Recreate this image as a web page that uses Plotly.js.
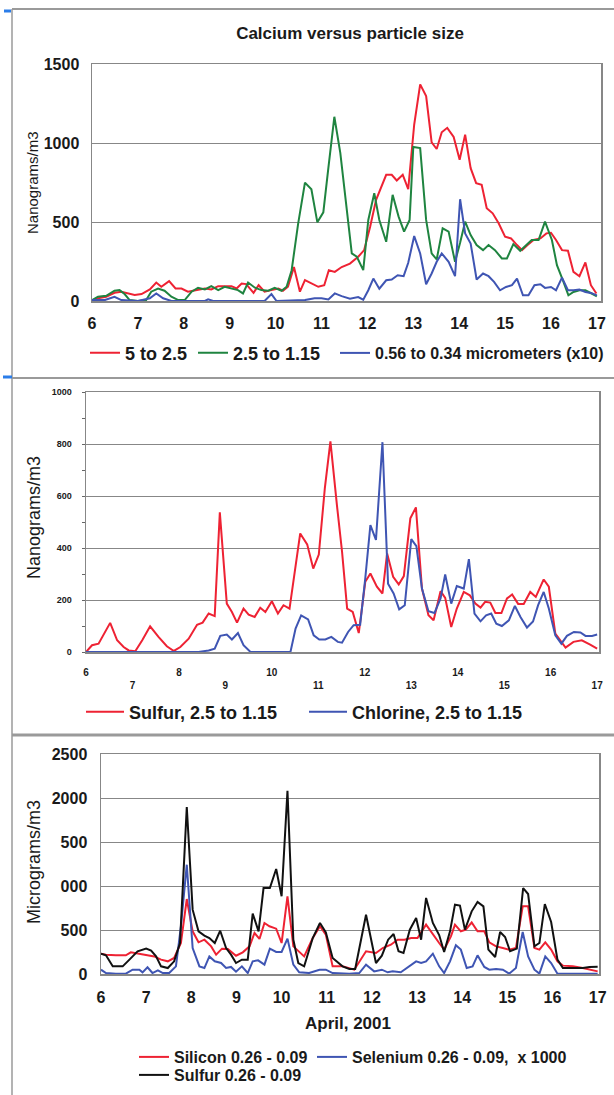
<!DOCTYPE html>
<html>
<head>
<meta charset="utf-8">
<script src="https://cdn.plot.ly/plotly-3.0.1.min.js"></script>
<style>
  html, body { margin: 0; padding: 0; background: #fff; }
  #chart { width: 614px; height: 1095px; }
</style>
</head>
<body>
<div id="chart"></div>
<script>
// ---- Calcium versus particle size (ng/m3), April 2001 ----
const caCoarseDay = [6.00,6.13,6.31,6.49,6.64,6.78,6.93,7.08,7.26,7.40,7.51,7.68,7.82,7.95,8.09,8.20,8.35,8.46,8.60,8.75,8.89,9.04,9.15,9.26,9.36,9.52,9.63,9.76,9.91,10.06,10.16,10.27,10.40,10.53,10.64,10.78,10.93,11.06,11.16,11.29,11.44,11.62,11.80,11.93,12.06,12.19,12.31,12.41,12.53,12.64,12.77,12.89,13.02,13.15,13.28,13.40,13.51,13.62,13.74,13.88,14.01,14.13,14.25,14.37,14.49,14.60,14.73,14.86,15.00,15.13,15.26,15.37,15.49,15.62,15.77,15.90,16.00,16.11,16.24,16.37,16.49,16.62,16.75,16.87,16.99];
const caCoarse = [0,17,27,52,59,48,38,44,73,117,90,126,79,79,59,65,73,79,73,94,94,94,79,111,107,52,100,59,69,79,65,90,215,59,132,111,90,100,195,184,215,237,280,322,470,640,725,799,799,763,799,708,1117,1371,1297,1004,962,1068,1096,1038,894,1053,841,746,735,587,555,492,407,396,354,322,354,386,396,428,432,386,322,318,184,157,244,100,47];

const caMidDay = [6.00,6.13,6.31,6.49,6.60,6.71,6.82,7.00,7.18,7.29,7.44,7.58,7.73,7.88,8.02,8.17,8.31,8.46,8.60,8.75,8.89,9.04,9.18,9.29,9.40,9.55,9.69,9.84,9.98,10.13,10.24,10.35,10.49,10.64,10.78,10.91,11.04,11.15,11.28,11.41,11.66,11.77,11.91,12.02,12.15,12.26,12.41,12.55,12.68,12.80,12.92,13.00,13.15,13.28,13.40,13.51,13.64,13.77,13.91,14.02,14.13,14.25,14.38,14.52,14.64,14.78,14.93,15.04,15.18,15.33,15.46,15.58,15.73,15.87,16.02,16.13,16.26,16.38,16.49,16.62,16.75,16.87,17.00];
const caMid = [6,27,33,65,69,44,6,0,6,59,79,65,27,6,6,59,84,73,94,69,90,79,69,48,117,84,69,65,84,65,90,195,487,749,707,498,561,843,1166,937,301,280,195,513,682,513,375,672,534,439,513,975,968,513,301,263,460,439,248,369,502,417,354,322,354,322,269,269,360,318,354,386,386,502,386,227,131,36,57,68,68,51,30];

const caFineDay = [6.00,6.28,6.49,6.64,7.00,7.26,7.40,7.55,7.73,8.46,8.53,8.64,9.76,9.91,10.02,10.64,10.85,11.00,11.15,11.29,11.44,11.62,11.80,11.91,12.02,12.13,12.26,12.41,12.53,12.66,12.79,12.89,13.02,13.15,13.28,13.40,13.51,13.62,13.77,13.91,14.02,14.13,14.25,14.38,14.52,14.64,14.76,14.89,15.02,15.15,15.26,15.39,15.51,15.64,15.77,15.87,16.00,16.11,16.24,16.37,16.49,16.62,16.75,16.87,17.00];
const caFine = [6,6,27,6,0,17,48,17,0,0,10,0,0,44,0,6,17,17,10,48,31,15,25,8,68,142,78,131,136,163,157,242,411,301,106,174,248,301,248,157,644,428,364,136,174,157,121,68,89,100,142,36,36,100,106,83,89,68,148,68,68,72,57,51,36];

// ---- Sulfur and chlorine, 2.5 to 1.15 um (ng/m3) ----
const sulfurDay = [6.00,6.13,6.27,6.52,6.67,6.81,6.92,7.06,7.21,7.38,7.56,7.74,7.89,8.03,8.21,8.39,8.51,8.64,8.77,8.88,9.03,9.14,9.25,9.39,9.50,9.63,9.75,9.86,10.00,10.13,10.25,10.38,10.61,10.76,10.89,11.01,11.14,11.26,11.40,11.51,11.62,11.74,11.87,12.01,12.12,12.26,12.38,12.48,12.61,12.73,12.84,12.98,13.10,13.23,13.37,13.48,13.63,13.73,13.86,13.98,14.13,14.26,14.38,14.49,14.59,14.70,14.81,14.94,15.06,15.17,15.30,15.42,15.56,15.68,15.85,15.96,16.10,16.32,16.49,16.67,16.85,17.00];
const sulfur = [0,26,32,112,45,19,6,3,45,99,58,22,4,19,51,105,113,148,138,537,186,154,113,167,144,135,170,154,195,148,180,167,456,414,321,375,630,810,565,386,167,154,73,270,302,251,225,379,289,260,292,514,556,244,141,122,234,208,96,167,231,218,186,171,193,190,150,150,206,221,185,185,231,212,279,251,71,17,39,45,28,13];

const chlorineDay = [6.00,8.42,8.64,8.77,8.89,9.03,9.14,9.27,9.39,9.54,10.40,10.51,10.63,10.78,10.90,11.02,11.15,11.28,11.42,11.51,11.64,11.76,11.90,12.01,12.12,12.24,12.38,12.50,12.62,12.74,12.86,13.00,13.11,13.23,13.37,13.50,13.63,13.73,13.86,13.98,14.13,14.24,14.36,14.49,14.61,14.72,14.83,14.95,15.10,15.23,15.35,15.49,15.62,15.73,15.85,15.96,16.10,16.23,16.35,16.50,16.64,16.75,16.89,17.00];
const chlorine = [0,0,6,13,62,67,48,73,26,0,0,90,141,125,64,48,48,58,39,36,77,103,105,283,488,431,807,263,225,164,180,434,407,244,157,150,206,298,186,254,244,357,148,118,141,148,109,100,122,177,135,94,117,180,231,167,64,32,62,77,75,62,62,67];

// ---- Ultrafine 0.26 - 0.09 um fraction ----
const siliconDay = [6.00,6.11,6.33,6.55,6.66,6.85,7.03,7.18,7.33,7.48,7.62,7.77,7.90,8.03,8.16,8.29,8.44,8.55,8.68,8.81,8.99,9.14,9.29,9.40,9.51,9.62,9.73,9.88,10.00,10.13,10.26,10.39,10.50,10.69,10.85,10.98,11.13,11.35,11.61,11.87,12.09,12.24,12.42,12.57,12.72,12.87,13.01,13.20,13.35,13.49,13.60,13.75,13.84,13.97,14.08,14.21,14.34,14.49,14.60,14.75,14.90,15.04,15.19,15.34,15.46,15.60,15.71,15.84,15.97,16.11,16.23,16.45,16.67,16.82,17.00];
const silicon = [231,220,212,212,246,231,220,200,163,144,182,352,852,485,360,390,314,220,288,284,208,246,314,466,398,580,542,515,352,883,314,258,200,409,542,447,87,87,49,258,239,295,333,390,390,409,409,561,447,352,277,428,561,485,504,587,485,485,360,314,295,277,295,769,769,295,277,360,277,144,95,87,68,49,30];

const seleniumDay = [6.00,6.11,6.33,6.55,6.70,6.85,6.92,7.03,7.14,7.26,7.37,7.51,7.66,7.77,7.90,8.03,8.18,8.29,8.40,8.52,8.66,8.77,8.88,8.99,9.12,9.25,9.36,9.48,9.62,9.74,9.88,10.00,10.13,10.26,10.39,10.61,10.84,10.98,11.13,11.50,11.72,11.87,12.05,12.22,12.35,12.46,12.64,12.83,12.98,13.09,13.20,13.35,13.49,13.60,13.73,13.86,13.97,14.10,14.23,14.34,14.49,14.60,14.75,14.90,15.04,15.19,15.34,15.46,15.60,15.71,15.84,15.97,16.11,17.00];
const selenium = [49,11,4,4,49,49,19,76,11,42,11,11,87,542,1242,295,87,68,200,144,125,68,80,27,87,11,144,155,106,288,250,250,402,106,19,11,49,49,11,4,11,106,30,49,19,30,19,87,144,125,144,231,87,11,144,326,277,68,87,212,80,49,57,49,4,68,477,200,49,4,200,125,4,4];

const sulfurFineDay = [6.00,6.11,6.26,6.48,6.63,6.81,7.00,7.11,7.22,7.33,7.48,7.62,7.75,7.90,8.03,8.16,8.29,8.40,8.52,8.64,8.77,8.88,8.99,9.12,9.25,9.36,9.49,9.60,9.74,9.88,10.00,10.13,10.26,10.37,10.50,10.69,10.85,10.98,11.13,11.35,11.50,11.63,11.87,12.09,12.22,12.36,12.48,12.59,12.70,12.84,12.98,13.09,13.20,13.35,13.49,13.60,13.73,13.84,13.95,14.06,14.21,14.34,14.47,14.58,14.73,14.84,14.95,15.06,15.21,15.35,15.46,15.60,15.71,15.83,15.97,16.11,16.23,16.45,16.67,16.82,17.00];
const sulfurFine = [231,212,87,87,163,258,288,265,200,87,68,144,352,1898,731,485,436,409,352,492,295,220,125,163,163,686,485,977,977,1193,883,2083,390,125,87,409,580,473,182,87,57,57,674,125,208,390,455,258,239,504,636,390,864,580,443,250,485,788,777,504,712,818,769,277,193,477,420,258,288,977,909,314,352,795,591,163,68,68,68,80,83];

// ---- axis labels ----
const dayTicks = [6,7,8,9,10,11,12,13,14,15,16,17];
const dayLabels = dayTicks.map(String);
const dayLabelsStaggered = dayTicks.map(d => (d % 2 ? '<br>' + d : String(d)));
const caTicks = [0,500,1000,1500];
const clTicks = [0,200,400,600,800,1000];
const fineTicks = [0,500,1000,1500,2000,2500];
const fineTickLabels = ['0','500','000','500','2000','2500'];

const RED = '#ee2233', GREEN = '#1f8440', BLUE = '#3f55b3', BLACK = '#111111';
const FONT = 'Liberation Sans, Arial, Helvetica, sans-serif';
const W = 614, H = 1095;
const px = x => x / W;
const py = y => 1 - y / H;

function line(x, y, color, name, xa, ya, legend) {
  return { x, y, name, type: 'scatter', mode: 'lines', xaxis: xa, yaxis: ya, legend,
           showlegend: true, line: { color, width: 2 }, hoverinfo: 'skip' };
}

const traces = [
  line(caCoarseDay, caCoarse, RED, '5 to 2.5', 'x', 'y', 'legend'),
  line(caMidDay, caMid, GREEN, '2.5 to 1.15', 'x', 'y', 'legend2'),
  line(caFineDay, caFine, BLUE, '0.56 to 0.34 micrometers (x10)', 'x', 'y', 'legend3'),
  line(sulfurDay, sulfur, RED, 'Sulfur, 2.5 to 1.15', 'x2', 'y2', 'legend4'),
  line(chlorineDay, chlorine, BLUE, 'Chlorine, 2.5 to 1.15', 'x2', 'y2', 'legend5'),
  line(siliconDay, silicon, RED, 'Silicon 0.26 - 0.09', 'x3', 'y3', 'legend6'),
  line(seleniumDay, selenium, BLUE, 'Selenium 0.26 - 0.09,  x 1000', 'x3', 'y3', 'legend7'),
  line(sulfurFineDay, sulfurFine, BLACK, 'Sulfur 0.26 - 0.09', 'x3', 'y3', 'legend8')
];

const AX = '#878787';
function xAxis(domain, range, size, labels, standoff, anchor) {
  return { domain, range, anchor, tickmode: 'array', tickvals: dayTicks, ticktext: labels,
           ticks: '', showgrid: false, zeroline: false, showline: true, mirror: true,
           linecolor: AX, linewidth: 1.5, ticklabelstandoff: standoff,
           tickfont: { family: FONT, size, color: '#1a1a1a', weight: 'bold' }, fixedrange: true };
}
function yAxis(domain, range, vals, text, size, standoff, anchor) {
  return { domain, range, anchor, tickmode: 'array', tickvals: vals, ticktext: text,
           ticks: '', showgrid: true, gridcolor: AX, gridwidth: 1, zeroline: false,
           showline: true, mirror: true, linecolor: AX, linewidth: 1.5, ticklabelstandoff: standoff,
           tickfont: { family: FONT, size, color: '#1a1a1a', weight: 'bold' }, fixedrange: true };
}

function legendAt(x, y, size, extra) {
  return Object.assign({ visible: true, x: px(x), y: py(y), xanchor: 'left', yanchor: 'middle', orientation: 'h',
           bgcolor: 'rgba(0,0,0,0)', borderwidth: 0,
           font: { family: FONT, size, color: '#1a1a1a', weight: 'bold' } }, extra || {});
}

const yAxis2 = yAxis([py(652), py(392)], [0, 1000], clTicks, clTicks.map(String), 9, 11, 'x2');
yAxis2.minor = { dtick: 100, tick0: 0, ticks: 'outside', ticklen: 3, tickcolor: '#666', showgrid: false };

const layout = {
  width: W, height: H,
  margin: { l: 0, r: 0, t: 0, b: 0, autoexpand: false },
  showlegend: true,
  paper_bgcolor: '#fff', plot_bgcolor: '#fff',
  font: { family: FONT, color: '#1a1a1a' },
  title: { text: 'Calcium versus particle size', x: px(350), y: py(33), xanchor: 'center', yanchor: 'middle',
           xref: 'paper', yref: 'paper', font: { family: FONT, size: 17, weight: 'bold', color: '#1a1a1a' } },
  xaxis: xAxis([px(92), px(601)], [6, 17.09], 16, dayLabels, 7, 'y'),
  yaxis: yAxis([py(301), py(64)], [0, 1500], caTicks, caTicks.map(String), 16, 8, 'x'),
  xaxis2: xAxis([px(86), px(599)], [6, 17.04], 10, dayLabelsStaggered, 10, 'y2'),
  yaxis2: yAxis2,
  xaxis3: xAxis([px(101), px(599)], [6, 17.03], 16, dayLabels, 8, 'y3'),
  yaxis3: yAxis([py(974), py(754)], [0, 2500], fineTicks, fineTickLabels, 16, 9, 'x3'),
  legend: legendAt(85, 353, 18),
  legend2: legendAt(193, 353, 18),
  legend3: legendAt(335, 353, 16),
  legend4: legendAt(81, 712, 18, { itemwidth: 38 }),
  legend5: legendAt(304, 712, 18, { itemwidth: 38 }),
  legend6: legendAt(134, 1057, 16),
  legend7: legendAt(312, 1057, 16),
  legend8: legendAt(134, 1075, 16),
  annotations: [
    { text: 'Nanograms/m3', x: px(33), y: py(183), xref: 'paper', yref: 'paper', textangle: -90,
      showarrow: false, xanchor: 'center', yanchor: 'middle', font: { family: FONT, size: 15, color: '#1a1a1a' } },
    { text: 'Nanograms/m3', x: px(34), y: py(518), xref: 'paper', yref: 'paper', textangle: -90,
      showarrow: false, xanchor: 'center', yanchor: 'middle', font: { family: FONT, size: 18, color: '#1a1a1a' } },
    { text: 'Micrograms/m3', x: px(34), y: py(862), xref: 'paper', yref: 'paper', textangle: -90,
      showarrow: false, xanchor: 'center', yanchor: 'middle', font: { family: FONT, size: 18, color: '#1a1a1a' } },
    { text: 'April, 2001', x: px(348), y: py(1023), xref: 'paper', yref: 'paper',
      showarrow: false, xanchor: 'center', yanchor: 'middle', font: { family: FONT, size: 17, weight: 'bold', color: '#1a1a1a' } }
  ],
  shapes: [
    { type: 'line', xref: 'paper', yref: 'paper', x0: px(12), x1: 1, y0: py(9), y1: py(9), line: { color: '#9a9a9a', width: 2 } },
    { type: 'line', xref: 'paper', yref: 'paper', x0: px(12), x1: px(12), y0: 0, y1: py(9), line: { color: '#9a9a9a', width: 1.5 } },
    { type: 'line', xref: 'paper', yref: 'paper', x0: px(12), x1: 1, y0: py(378), y1: py(378), line: { color: '#9a9a9a', width: 2 } },
    { type: 'line', xref: 'paper', yref: 'paper', x0: px(12), x1: 1, y0: py(735), y1: py(735), line: { color: '#9a9a9a', width: 3 } },
    { type: 'line', xref: 'paper', yref: 'paper', x0: px(4), x1: px(11), y0: py(11), y1: py(11), line: { color: '#2b7de9', width: 3 } },
    { type: 'line', xref: 'paper', yref: 'paper', x0: px(3), x1: px(12), y0: py(377), y1: py(377), line: { color: '#2b7de9', width: 3 } }
  ]
};

Plotly.newPlot('chart', traces, layout, { staticPlot: true, displayModeBar: false });
</script>
</body>
</html>
